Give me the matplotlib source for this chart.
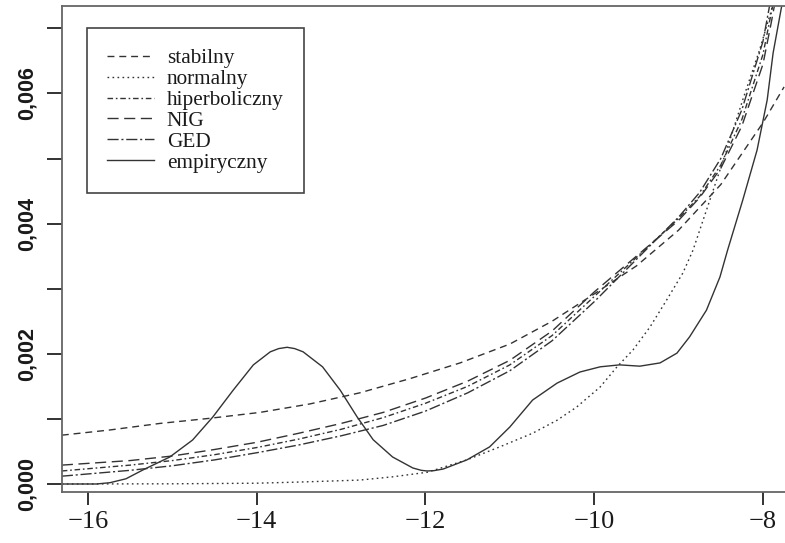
import matplotlib
matplotlib.use("Agg")
import matplotlib.pyplot as plt
from matplotlib.ticker import FixedLocator, FixedFormatter

# ---- data (density values in units of 0.001) ----
x_emp = [-16.31, -15.9, -15.74, -15.55, -15.35, -15.03, -14.76, -14.52, -14.28, -14.04, -13.84,
         -13.74, -13.64, -13.55, -13.45, -13.22, -13.01, -12.81, -12.62, -12.39, -12.15, -12.05,
         -11.98, -11.9, -11.79, -11.51, -11.24, -11.0, -10.73, -10.44, -10.17, -9.93, -9.70,
         -9.46, -9.22, -9.02, -8.87, -8.67, -8.51, -8.42, -8.24, -8.07, -7.95, -7.88, -7.78]
y_emp = [0.0, 0.0, 0.02, 0.08, 0.215, 0.415, 0.676, 1.03, 1.44, 1.83, 2.03,
         2.08, 2.10, 2.08, 2.03, 1.80, 1.44, 1.03, 0.68, 0.415, 0.246, 0.21,
         0.20, 0.205, 0.23, 0.37, 0.57, 0.876, 1.29, 1.55, 1.72, 1.80, 1.83,
         1.81, 1.86, 2.01, 2.26, 2.67, 3.18, 3.59, 4.36, 5.13, 5.90, 6.62, 7.33]

x_norm = [-16.31, -15.0, -14.0, -13.49, -12.78, -12.39, -11.98, -11.51, -11.12, -10.73,
          -10.44, -10.21, -9.93, -9.73, -9.54, -9.34, -9.14, -8.95, -8.83, -8.63,
          -8.43, -8.24, -8.04, -7.90, -7.80]
y_norm = [0.0, 0.003, 0.012, 0.03, 0.06, 0.11, 0.18, 0.37, 0.57, 0.78,
          0.98, 1.18, 1.49, 1.80, 2.06, 2.41, 2.83, 3.24, 3.59, 4.36,
          5.13, 5.90, 6.67, 7.28, 7.8]

x_fit = [-16.31, -15.5, -15.0, -14.5, -14.0, -13.5, -13.0, -12.5, -12.0, -11.5, -11.0,
         -10.5, -10.0, -9.5, -9.0, -8.75, -8.5, -8.25, -8.0, -7.9, -7.8]
y_nig = [0.29, 0.36, 0.43, 0.53, 0.64, 0.78, 0.93, 1.10, 1.32, 1.58, 1.90,
         2.35, 2.95, 3.50, 4.05, 4.40, 4.85, 5.50, 6.45, 7.10, 7.80]
y_hyp = [0.20, 0.29, 0.36, 0.45, 0.56, 0.69, 0.84, 1.02, 1.24, 1.50, 1.83,
         2.28, 2.88, 3.48, 4.08, 4.42, 4.90, 5.60, 6.60, 7.25, 7.90]
y_ged = [0.12, 0.21, 0.28, 0.37, 0.48, 0.60, 0.74, 0.90, 1.12, 1.40, 1.74,
         2.20, 2.80, 3.45, 4.10, 4.48, 5.00, 5.75, 6.80, 7.50, 8.20]

x_stab = [-16.31, -15.74, -15.15, -14.55, -13.96, -13.37, -12.78, -12.18, -11.59, -11.0,
          -10.5, -10.0, -9.5, -9.0, -8.5, -8.0, -7.75]
y_stab = [0.75, 0.83, 0.93, 1.01, 1.10, 1.23, 1.40, 1.62, 1.86, 2.15,
          2.50, 2.92, 3.35, 3.90, 4.60, 5.55, 6.10]

labels = ["stabilny", "normalny", "hiperboliczny", "NIG", "GED", "empiryczny"]
xticks = [-16, -14, -12, -10, -8]
xtick_labels = ["\u221216", "\u221214", "\u221212", "\u221210", "\u22128"]
yticks = [0.000, 0.001, 0.002, 0.003, 0.004, 0.005, 0.006, 0.007]
ytick_labels = ["0,000", "", "0,002", "", "0,004", "", "0,006", ""]

scale = 0.001
LC = "#333333"

fig = plt.figure(figsize=(7.85, 5.43), dpi=100)
fig.patch.set_facecolor("white")
ax = fig.add_axes([62 / 785, 1 - 492 / 543, (785 - 62) / 785, (492 - 6) / 543])

styles = [
    (x_stab, y_stab, (0, (5, 3.5))),
    (x_norm, y_norm, (0, (1.2, 2.4))),
    (x_fit, y_hyp, (0, (4, 2, 1.2, 2))),
    (x_fit, y_nig, (0, (8, 4))),
    (x_fit, y_ged, (0, (8, 2, 1.5, 2))),
    (x_emp, y_emp, "-"),
]
for (xs, ys, ls), lab in zip(styles, labels):
    ax.plot(xs, [v * scale for v in ys], linestyle=ls, color=LC, lw=1.0, label=lab)

ax.set_xlim(-16.308, -7.739)
ax.set_ylim(-0.000123, 0.007343)

ax.xaxis.set_major_locator(FixedLocator(xticks))
ax.xaxis.set_major_formatter(FixedFormatter(xtick_labels))
ax.yaxis.set_major_locator(FixedLocator(yticks))
ax.yaxis.set_major_formatter(FixedFormatter(ytick_labels))

ax.tick_params(axis="x", length=9.5, width=1.3, color="#222222", pad=4,
               labelsize=19, labelcolor="#1a1a1a")
ax.tick_params(axis="y", length=10.5, width=1.3, color="#222222", pad=7,
               labelsize=15.5, labelcolor="#1a1a1a")
for lab in ax.get_xticklabels():
    lab.set_family("Liberation Serif")
for lab in ax.get_yticklabels():
    lab.set_family("Liberation Sans")
    lab.set_fontweight("bold")
    lab.set_rotation(90)
    lab.set_verticalalignment("center")

for s in ["left", "bottom", "top"]:
    ax.spines[s].set_color("#666666")
    ax.spines[s].set_linewidth(1.3)
ax.spines["right"].set_visible(False)

leg = ax.legend(loc="upper left", bbox_to_anchor=(87 / 785, 1 - 28 / 543),
                bbox_transform=fig.transFigure, borderaxespad=0,
                prop={"family": "Liberation Serif", "size": 15.3},
                handlelength=2.2, handletextpad=0.6, labelspacing=0.05,
                borderpad=0.95, fancybox=False, framealpha=1)
leg.get_frame().set_edgecolor("#444444")
leg.get_frame().set_linewidth(1.2)
for t in leg.get_texts():
    t.set_color("#1a1a1a")

fig.savefig("out.png", dpi=100)
